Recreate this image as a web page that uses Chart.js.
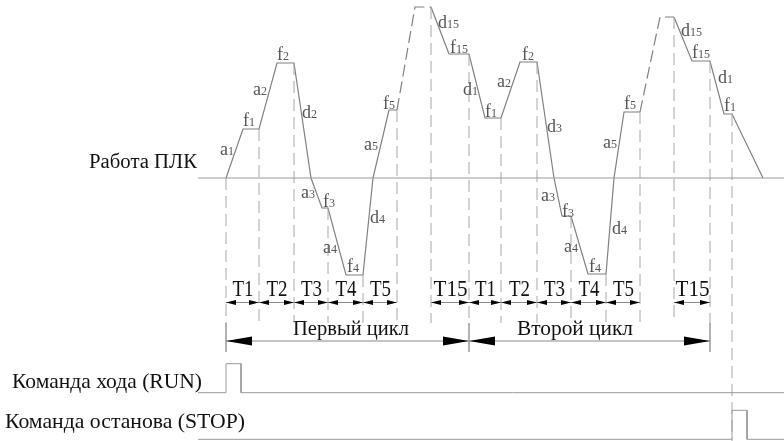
<!DOCTYPE html>
<html>
<head>
<meta charset="utf-8">
<script src="https://cdn.jsdelivr.net/npm/chart.js@4"></script>
<style>
  html, body { margin: 0; padding: 0; background: #fff; }
  canvas { display: block; }
</style>
</head>
<body>
<canvas id="diagram" width="784" height="441"></canvas>
<script>
// time on x, output frequency on y (0 = the "Работа ПЛК" base line)
const profileT = [226, 243, 259, 277, 294, 311, 322, 328, 346, 363, 373, 389, 397, 415, 431, 449, 469,
                  485, 501, 520, 537, 554, 562, 571, 588, 606, 614, 624, 640, 660, 674, 692, 710, 724, 732, 763]
const profileF = [0, 49, 49, 115, 115, 0, -30, -30, -97, -97, 0, 68, 68, 171, 171, 124, 124,
                  60, 60, 116, 116, 0, -38, -38, -96, -96, 0, 66, 66, 161, 161, 117, 117, 64, 64, 0]
// segments starting at these points are drawn dashed (run-up to stage 15)
const dashedFrom = [12, 13, 28, 29]

// stage boundaries (vertical dashed marks)
const markT = [226, 259, 294, 328, 363, 397, 431, 469, 501, 537, 571, 606, 640, 674, 710, 732]
const cycleEdges = [226, 469, 710]
const stopT = 732

// stage spans
const spanStart = [226, 259, 294, 328, 363, 431, 469, 501, 537, 571, 606, 674]
const spanEnd   = [259, 294, 328, 363, 397, 469, 501, 537, 571, 606, 640, 710]
const spanName  = ['T1', 'T2', 'T3', 'T4', 'T5', 'T15', 'T1', 'T2', 'T3', 'T4', 'T5', 'T15']

// cycles
const cycleStart = [226, 469]
const cycleEnd   = [469, 710]
const cycleName  = ['Первый цикл', 'Второй цикл']
const cycleTextT = [351, 575]

// command signals
const runT   = [198, 226, 226, 241, 241, 784]
const runOn  = [0, 0, 1, 1, 0, 0]
const stopSigT  = [198, 732, 732, 747, 747, 784]
const stopSigOn = [0, 0, 1, 1, 0, 0]

// profile tags: letter, index, anchor (left edge, middle)
const tagChar = ['a','f','a','f','d','a','f','a','f','d','a','f','d','f','d',
                 'f','a','f','d','a','f','a','f','d','a','f','d','f','d','f']
const tagIdx  = ['1','1','2','2','2','3','3','4','4','4','5','5','15','15','1',
                 '1','2','2','3','3','3','4','4','4','5','5','15','15','1','1']
const tagT = [220, 243, 253, 277, 302, 301, 323, 323, 347, 370, 364, 383, 438, 450, 463,
              485, 497, 522, 547, 541, 562, 564, 589, 612, 603, 624, 681, 692, 718, 724]
const tagF = [28, 57, 88, 123, 65, -15, -24, -70, -89, -40, 33, 74, 155, 130, 88,
              66, 96, 123, 51, -18, -34, -69, -89, -51, 35, 74, 147, 125, 100, 72]

const RUN_BASE = -214.7
const STOP_BASE = -261.3
const PULSE_H = 29
const T_ROW = -124.5
const CYCLE_ROW = -163
const MARK_END = -145
const EDGE_END = -174

function topAt(t) {
  let best = -Infinity
  profileT.forEach((v, i) => { if (v === t) best = Math.max(best, profileF[i]) })
  return best
}

const markDashed = []
const markSolid = []
markT.forEach(t => {
  const bottom = t === stopT ? -263 : MARK_END
  markDashed.push({x: t, y: topAt(t)}, {x: t, y: bottom}, {x: t, y: null})
  if (cycleEdges.includes(t)) markSolid.push({x: t, y: MARK_END}, {x: t, y: EDGE_END}, {x: t, y: null})
})

const spanShafts = []
spanStart.forEach((s, i) => spanShafts.push({x: s, y: T_ROW}, {x: spanEnd[i], y: T_ROW}, {x: s, y: null}))
const cycleShafts = []
cycleStart.forEach((s, i) => cycleShafts.push({x: s, y: CYCLE_ROW}, {x: cycleEnd[i], y: CYCLE_ROW}, {x: s, y: null}))

const line = (data, color, extra) => Object.assign({
  data, borderColor: color, borderWidth: 1, pointRadius: 0, showLine: true, fill: false,
  tension: 0, spanGaps: false, clip: false
}, extra || {})

function drawText(ctx, str, px, py, size, color, width, align) {
  ctx.save()
  ctx.font = size + 'px "Liberation Serif", "Times New Roman", serif'
  ctx.fillStyle = color
  ctx.textBaseline = 'alphabetic'
  const w = ctx.measureText(str).width
  const sx = width ? width / w : 1
  let left = px
  if (align === 'center') left = px - w * sx / 2
  ctx.translate(left, py)
  ctx.scale(sx, 1)
  ctx.fillText(str, 0, 0)
  ctx.restore()
}

function arrowHead(ctx, tipX, tipY, dir, len, half) {
  ctx.beginPath()
  ctx.moveTo(tipX, tipY)
  ctx.lineTo(tipX + dir * len, tipY - half)
  ctx.lineTo(tipX + dir * len, tipY + half)
  ctx.closePath()
  ctx.fill()
}

const overlay = {
  id: 'overlay',
  afterDatasetsDraw(chart) {
    const {ctx, scales: {x, y}} = chart
    ctx.save()

    // side labels
    drawText(ctx, 'Работа ПЛК', 89, y.getPixelForValue(0) - 10.5, 20, '#111', 108)
    drawText(ctx, 'Команда хода (RUN)', 12, y.getPixelForValue(RUN_BASE) - 4.5, 21, '#111', 190)
    drawText(ctx, 'Команда останова (STOP)', 5, y.getPixelForValue(STOP_BASE) - 11, 21, '#111', 240)

    // profile tags
    tagChar.forEach((c, i) => {
      const px = x.getPixelForValue(tagT[i])
      const py = y.getPixelForValue(tagF[i]) + 5
      ctx.font = '18px "Liberation Serif", serif'
      const w = ctx.measureText(c).width
      drawText(ctx, c, px, py, 18, '#555')
      drawText(ctx, tagIdx[i], px + w, py, 12, '#555')
    })

    // stage spans
    ctx.fillStyle = '#000'
    spanStart.forEach((s, i) => {
      const x0 = x.getPixelForValue(s), x1 = x.getPixelForValue(spanEnd[i])
      const py = y.getPixelForValue(T_ROW)
      arrowHead(ctx, x0, py, 1, 10, 2.5)
      arrowHead(ctx, x1, py, -1, 10, 2.5)
      drawText(ctx, spanName[i], (x0 + x1) / 2 + 0.5, py - 6.5, 23, '#111', spanName[i].length > 2 ? 34 : 21, 'center')
    })

    // cycles
    cycleStart.forEach((s, i) => {
      const x0 = x.getPixelForValue(s), x1 = x.getPixelForValue(cycleEnd[i])
      const py = y.getPixelForValue(CYCLE_ROW)
      ctx.fillStyle = '#000'
      arrowHead(ctx, x0, py, 1, 26, 4.5)
      arrowHead(ctx, x1, py, -1, 26, 4.5)
      drawText(ctx, cycleName[i], x.getPixelForValue(cycleTextT[i]), py - 6, 20, '#111', 116, 'center')
    })
    ctx.restore()
  }
}

new Chart(document.getElementById('diagram'), {
  type: 'scatter',
  data: {
    datasets: [
      line([{x: 198, y: 0}, {x: 784, y: 0}], '#9a9a9a'),
      line(runT.map((t, i) => ({x: t, y: RUN_BASE + runOn[i] * PULSE_H})), '#9a9a9a'),
      line(stopSigT.map((t, i) => ({x: t, y: STOP_BASE + stopSigOn[i] * PULSE_H})), '#9a9a9a'),
      line(markDashed, '#a8a8a8', {borderDash: [12, 6]}),
      line(markSolid, '#a8a8a8'),
      line(spanShafts, '#8a8a8a'),
      line(cycleShafts, '#8a8a8a'),
      line(profileT.map((t, i) => ({x: t, y: profileF[i]})), '#808080', {
        borderWidth: 1.2,
        segment: {
          borderDash: c => dashedFrom.includes(c.p0DataIndex) ? [12, 5] : undefined
        }
      })
    ]
  },
  options: {
    responsive: false,
    animation: false,
    devicePixelRatio: 1,
    layout: { padding: 0 },
    plugins: { legend: { display: false }, tooltip: { enabled: false } },
    scales: {
      x: { type: 'linear', min: 0, max: 784, display: false },
      y: { type: 'linear', min: -263, max: 178, display: false }
    }
  },
  plugins: [overlay]
})
</script>
</body>
</html>
